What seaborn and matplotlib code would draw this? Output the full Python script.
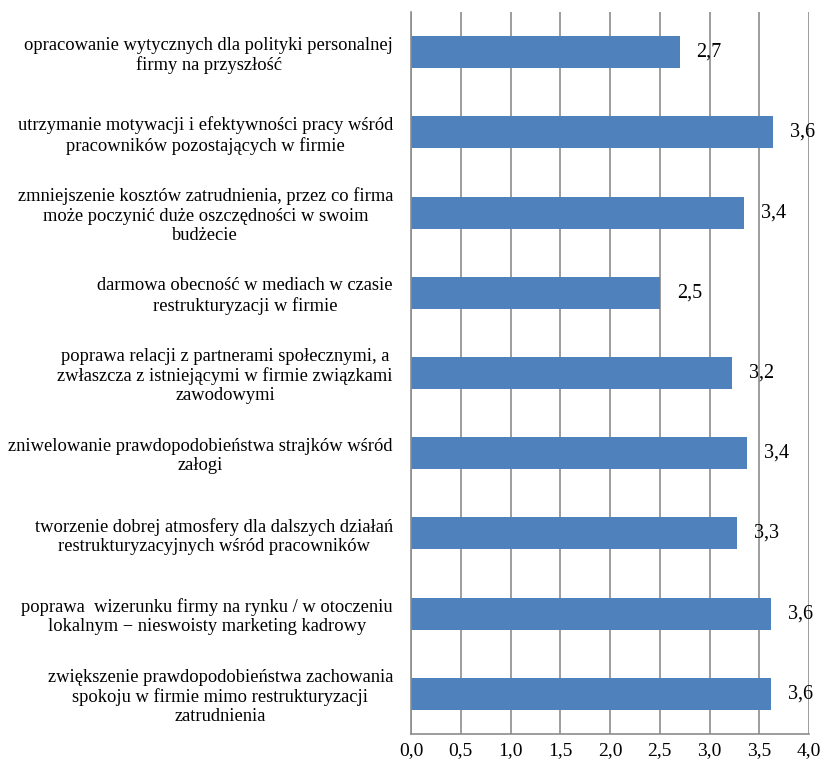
import matplotlib
matplotlib.use("Agg")
import matplotlib.pyplot as plt
import seaborn as sns
import pandas as pd
from matplotlib.ticker import FixedLocator, FuncFormatter

categories = [
    "opracowanie wytycznych dla polityki personalnej\nfirmy na przyszłość",
    "utrzymanie motywacji i efektywności pracy wśród\npracowników pozostających w firmie",
    "zmniejszenie kosztów zatrudnienia, przez co firma\nmoże poczynić duże oszczędności w swoim\nbudżecie",
    "darmowa obecność w mediach w czasie\nrestrukturyzacji w firmie",
    "poprawa relacji z partnerami społecznymi, a\nzwłaszcza z istniejącymi w firmie związkami\nzawodowymi",
    "zniwelowanie prawdopodobieństwa strajków wśród\nzałogi",
    "tworzenie dobrej atmosfery dla dalszych działań\nrestrukturyzacyjnych wśród pracowników",
    "poprawa  wizerunku firmy na rynku / w otoczeniu\nlokalnym − nieswoisty marketing kadrowy",
    "zwiększenie prawdopodobieństwa zachowania\nspokoju w firmie mimo restrukturyzacji\nzatrudnienia",
]
values = [2.70, 3.64, 3.35, 2.50, 3.23, 3.38, 3.28, 3.62, 3.62]
x_ticks = [0.0, 0.5, 1.0, 1.5, 2.0, 2.5, 3.0, 3.5, 4.0]

sns.set_style("white")
plt.rcParams['font.family'] = ['Liberation Serif', 'DejaVu Serif']

df = pd.DataFrame({"cat": categories, "val": values})

fig = plt.figure(figsize=(8.23, 7.66), dpi=100)
ax = fig.add_axes([411/823, 1 - 734/766, (809 - 411)/823, (734 - 12)/766])

sns.barplot(data=df, y="cat", x="val", orient="h", color="#4F81BD",
            width=0.4, saturation=1, ax=ax, edgecolor="#4F81BD", linewidth=0)

ax.set_xlim(0, 4.0)
ax.set_ylim(len(categories) - 0.5, -0.5)
ax.set_xlabel("")
ax.set_ylabel("")

ax.xaxis.set_major_locator(FixedLocator(x_ticks))
ax.xaxis.set_major_formatter(FuncFormatter(lambda v, p: f"{v:.1f}".replace(".", ",")))
ax.grid(axis="x", color="#8c8c8c", linewidth=1.2)
ax.grid(axis="y", visible=False)
ax.set_axisbelow(True)

for s in ["top", "right"]:
    ax.spines[s].set_visible(False)
for s in ["left", "bottom"]:
    ax.spines[s].set_color("#8c8c8c")
    ax.spines[s].set_linewidth(1.2)

ax.tick_params(axis="x", which="major", length=5, width=1.2, color="#8c8c8c",
               direction="out", labelsize=14, pad=1, labelcolor="black")
ax.tick_params(axis="y", which="major", length=0, labelsize=13.3, pad=13, labelcolor="black")
ax.yaxis.set_minor_locator(FixedLocator([i - 0.5 for i in range(len(categories) + 1)]))
ax.tick_params(axis="y", which="minor", length=5, width=1.2, color="#8c8c8c", direction="out")

for lbl in ax.get_yticklabels():
    lbl.set_multialignment("center")
    lbl.set_linespacing(1.17)

for i, v in enumerate(values):
    ax.text(v + 0.17, i, f"{v:.1f}".replace(".", ","), va="center", ha="left",
            fontsize=14.5, color="black")

fig.savefig("out.png", dpi=100)
